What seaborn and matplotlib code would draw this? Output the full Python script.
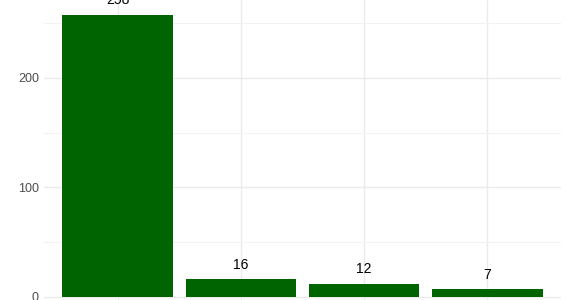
import matplotlib
matplotlib.use("Agg")
import matplotlib.pyplot as plt
import seaborn as sns
import pandas as pd
from matplotlib.ticker import MultipleLocator

categories = ["A", "B", "C", "D"]
counts = [258, 16, 12, 7]

df = pd.DataFrame({"category": categories, "count": counts})

sns.set_theme(style="white")
plt.rcParams["font.family"] = ["Liberation Sans", "DejaVu Sans"]

fig = plt.figure(figsize=(5.66, 3.0), dpi=100)
ax = fig.add_axes([44 / 566, 0, 517 / 566, 1])

sns.barplot(data=df, x="category", y="count", color="#006400", saturation=1,
            width=0.9, ax=ax, zorder=2, edgecolor="none")

ax.set_xlim(-0.6, 3.6)
ax.set_ylim(-3.02, 271.3)
ax.yaxis.set_major_locator(MultipleLocator(100))
ax.yaxis.set_minor_locator(MultipleLocator(50))
ax.grid(True, which="major", axis="both", color="#EBEBEB", linewidth=1.0, zorder=0)
ax.grid(True, which="minor", axis="y", color="#F2F2F2", linewidth=0.8, zorder=0)
ax.set_axisbelow(True)
for s in ax.spines.values():
    s.set_visible(False)
ax.tick_params(axis="y", which="both", length=0, pad=3.6, labelsize=9, labelcolor="#4D4D4D")
ax.tick_params(axis="x", which="both", length=0, labelbottom=False)
ax.set_xlabel("")
ax.set_ylabel("")

for i, v in enumerate(counts):
    ax.annotate(str(v), xy=(i, v), xytext=(0, 7.4), textcoords="offset points",
                ha="center", va="baseline", fontsize=10, color="black",
                annotation_clip=False, clip_on=False)

fig.savefig("out.png", dpi=100)
